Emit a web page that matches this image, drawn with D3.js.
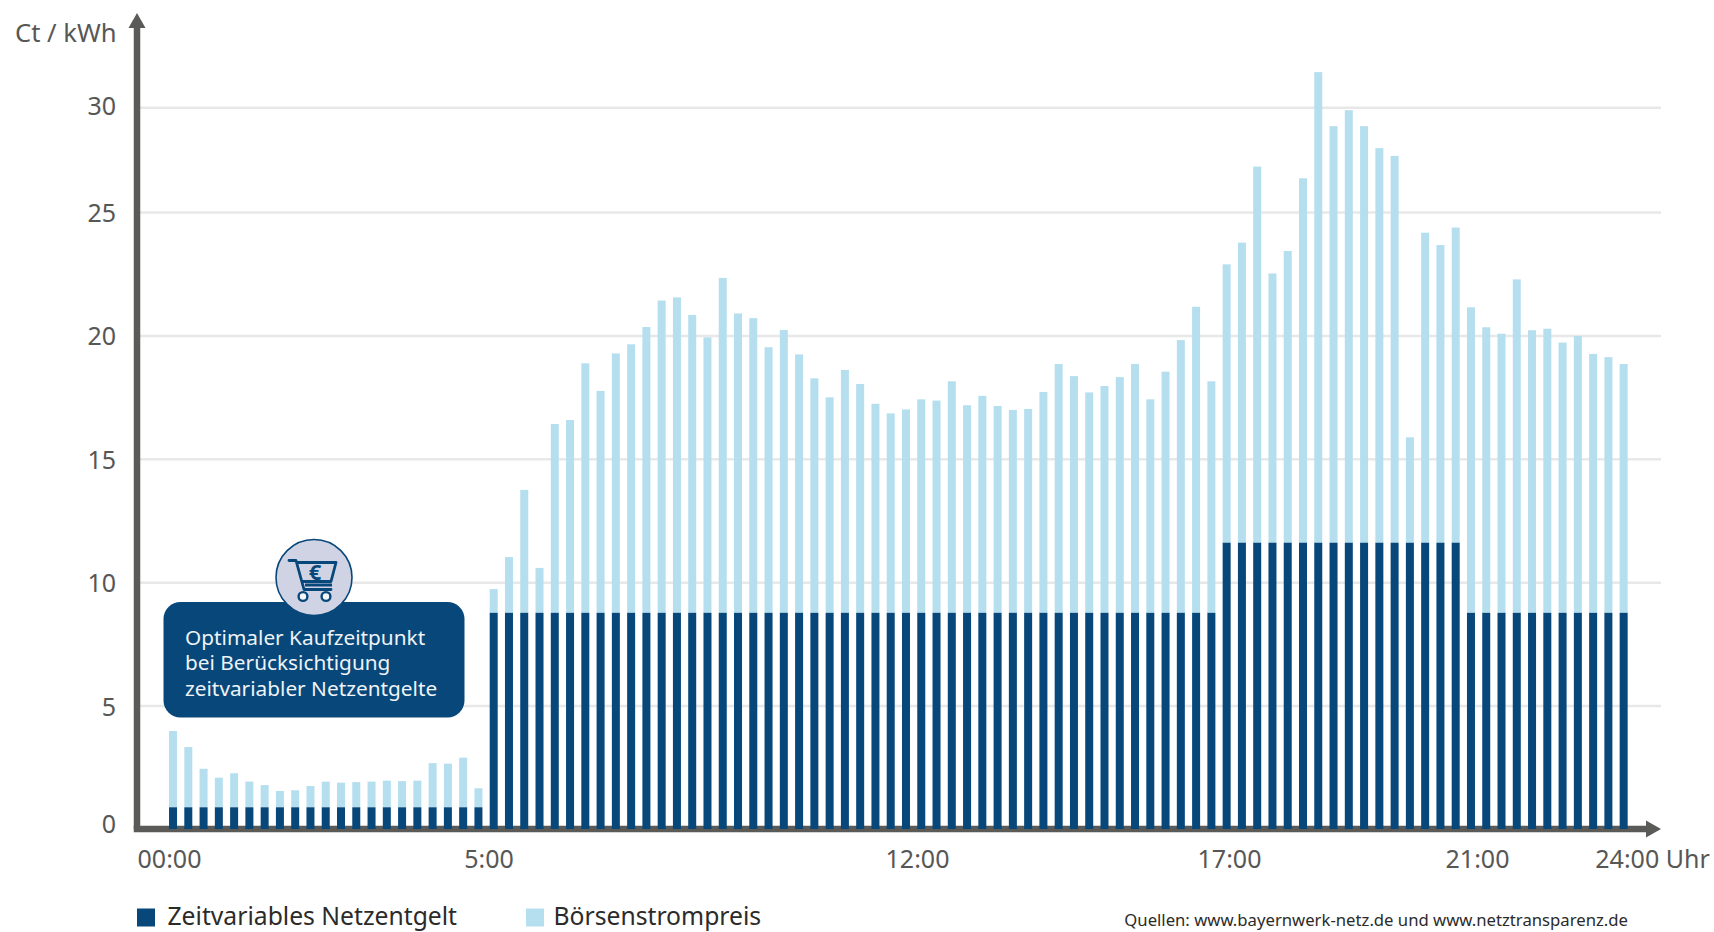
<!DOCTYPE html>
<html lang="de">
<head>
<meta charset="utf-8">
<title>Zeitvariable Netzentgelte</title>
<script src="https://cdn.jsdelivr.net/npm/d3@7"></script>
<style>
  body { margin: 0; background: #fff; }
  svg { display: block; font-family: "Noto Sans", sans-serif; }
  .achse text { fill: #575756; font-size: 25px; font-family: "Noto Sans", sans-serif; }
  .achse .domain { display: none; }
</style>
</head>
<body>
<script>
// Netzentgelt je Viertelstunde (Ct/kWh)
var netzentgelt = [
  0.88, 0.88, 0.88, 0.88, 0.88, 0.88, 0.88, 0.88, 0.88, 0.88, 0.88, 0.88,
  0.88, 0.88, 0.88, 0.88, 0.88, 0.88, 0.88, 0.88, 0.88,
  8.76, 8.76, 8.76, 8.76, 8.76, 8.76, 8.76, 8.76, 8.76, 8.76, 8.76, 8.76,
  8.76, 8.76, 8.76, 8.76, 8.76, 8.76, 8.76, 8.76, 8.76, 8.76, 8.76, 8.76,
  8.76, 8.76, 8.76, 8.76, 8.76, 8.76, 8.76, 8.76, 8.76, 8.76, 8.76, 8.76,
  8.76, 8.76, 8.76, 8.76, 8.76, 8.76, 8.76, 8.76, 8.76, 8.76, 8.76, 8.76,
  11.6, 11.6, 11.6, 11.6, 11.6, 11.6, 11.6, 11.6,
  11.6, 11.6, 11.6, 11.6, 11.6, 11.6, 11.6, 11.6,
  8.76, 8.76, 8.76, 8.76, 8.76, 8.76, 8.76, 8.76, 8.76, 8.76, 8.76
];

// Oberkante der Saeulen: Netzentgelt plus Boersenstrompreis (Ct/kWh)
var gesamtpreis = [
  3.97, 3.32, 2.44, 2.08, 2.26, 1.92, 1.78, 1.54, 1.57, 1.74, 1.92, 1.88,
  1.90, 1.92, 1.96, 1.94, 1.96, 2.67, 2.65, 2.89, 1.65,
  9.72, 11.02, 13.74, 10.58, 16.41, 16.57, 18.87, 17.75, 19.27, 19.64, 20.34,
  21.41, 21.54, 20.83, 19.92, 22.33, 20.89, 20.70, 19.52, 20.22, 19.23, 18.26,
  17.49, 18.60, 18.03, 17.23, 16.84, 17.00, 17.41, 17.36, 18.14, 17.17, 17.55,
  17.14, 16.98, 17.02, 17.71, 18.84, 18.35, 17.69, 17.95, 18.31, 18.84, 17.41,
  18.53, 19.81, 21.16, 18.14, 22.88, 23.76, 27.17, 22.51, 23.42, 26.61, 31.68,
  29.10, 29.86, 29.10, 28.05, 27.68, 15.87, 24.16, 23.66, 24.37, 21.14, 20.33,
  20.07, 22.27, 20.21, 20.27, 19.71, 19.98, 19.25, 19.12, 18.84
];

var yTicks = [0, 5, 10, 15, 20, 25, 30];
var stunden = [0, 5, 12, 17, 21, 24];
var stundenLabels = ["00:00", "5:00", "12:00", "17:00", "21:00", "24:00 Uhr"];
var legende = ["Zeitvariables Netzentgelt", "Börsenstrompreis"];
var hinweis = ["Optimaler Kaufzeitpunkt", "bei Berücksichtigung", "zeitvariabler Netzentgelte"];

var dunkel = "#08477a";
var hell = "#b5dfef";
var grau = "#5a5a59";

var svg = d3.select("body")
  .append("svg")
  .attr("width", 1714)
  .attr("height", 932);

// Die Skala ist oberhalb von 25 gestaucht
var y = d3.scaleLinear()
  .domain([0, 25, 30])
  .range([829, 212, 107.3]);

var x = d3.scaleBand()
  .domain(d3.range(gesamtpreis.length))
  .range([165.4, 1631.3])
  .paddingInner(0.476)
  .paddingOuter(0.238);

// Die Zeitbeschriftung sitzt nicht gleichmaessig auf der Achse
var xZeit = d3.scaleLinear()
  .domain(stunden)
  .range([169, 488.5, 917, 1229, 1477, 1652]);

// y-Achse mit Gitternetz
var yAchse = svg.append("g")
  .attr("class", "achse")
  .attr("transform", "translate(137,0)")
  .call(d3.axisLeft(y).tickValues(yTicks).tickSize(-1524).tickPadding(21));

yAchse.selectAll(".tick line")
  .attr("stroke", "#e8e8e8")
  .attr("stroke-width", 2.5)
  .attr("opacity", function (d) { return d === 0 ? 0 : 1; });

yAchse.selectAll(".tick text")
  .attr("dy", function (d) {
    if (d === 0) return "0.14em";
    return d === 30 ? "0.28em" : "0.38em";
  });

// Achsenlinien mit Pfeilspitzen
svg.append("path")
  .attr("d", "M137,829V26")
  .attr("stroke", grau)
  .attr("stroke-width", 6.5)
  .attr("fill", "none");
svg.append("path")
  .attr("d", "M137,829H1650")
  .attr("stroke", grau)
  .attr("stroke-width", 6.5)
  .attr("stroke-linecap", "square")
  .attr("fill", "none");
svg.append("path").attr("d", "M137,13L145.5,28H128.5Z").attr("fill", grau);
svg.append("path").attr("d", "M1661,829L1646,820.5V837.5Z").attr("fill", grau);

// Saeulen: hell bis zum Gesamtpreis, dunkel bis zum Netzentgelt
svg.selectAll("rect.preis")
  .data(gesamtpreis)
  .enter()
  .append("rect")
  .attr("class", "preis")
  .attr("x", function (d, i) { return x(i); })
  .attr("width", x.bandwidth())
  .attr("y", function (d) { return y(d); })
  .attr("height", function (d, i) { return y(netzentgelt[i]) - y(d); })
  .attr("fill", hell);

svg.selectAll("rect.netz")
  .data(netzentgelt)
  .enter()
  .append("rect")
  .attr("class", "netz")
  .attr("x", function (d, i) { return x(i); })
  .attr("width", x.bandwidth())
  .attr("y", function (d) { return y(d); })
  .attr("height", function (d) { return y(0) - y(d); })
  .attr("fill", dunkel);

// x-Achse, nur die Beschriftung
svg.append("g")
  .attr("class", "achse")
  .attr("transform", "translate(0,829)")
  .call(d3.axisBottom(xZeit)
    .tickValues(stunden)
    .tickSize(0)
    .tickPadding(21)
    .tickFormat(function (d, i) { return stundenLabels[i]; }));

svg.append("text")
  .attr("x", 116.5)
  .attr("y", 42)
  .attr("text-anchor", "end")
  .attr("fill", "#575756")
  .attr("font-size", 25.6)
  .text("Ct / kWh");

// Hinweisbox mit Einkaufswagen
svg.append("rect")
  .attr("x", 163.5)
  .attr("y", 602)
  .attr("width", 301)
  .attr("height", 115.5)
  .attr("rx", 17)
  .attr("fill", dunkel);

svg.selectAll("text.hinweis")
  .data(hinweis)
  .enter()
  .append("text")
  .attr("class", "hinweis")
  .attr("x", 185)
  .attr("y", function (d, i) { return 645 + i * 25.4; })
  .attr("fill", "#eef3f7")
  .attr("font-size", 20.8)
  .text(function (d) { return d; });

var wagen = svg.append("g").attr("transform", "translate(314,577.5)");

wagen.append("circle")
  .attr("r", 38)
  .attr("fill", "#d0d3e3")
  .attr("stroke", dunkel)
  .attr("stroke-width", 1.6);

wagen.append("path")
  .attr("d", "M-25,-17H-18L-10,12H17M-17,-15H22L17,4H-12")
  .attr("fill", "none")
  .attr("stroke", dunkel)
  .attr("stroke-width", 2.8)
  .attr("stroke-linejoin", "round")
  .attr("stroke-linecap", "round");

wagen.append("path")
  .attr("d", "M-9,7.5H18")
  .attr("stroke", dunkel)
  .attr("stroke-width", 3);

wagen.selectAll("circle.rad")
  .data([-11, 12])
  .enter()
  .append("circle")
  .attr("class", "rad")
  .attr("cx", function (d) { return d; })
  .attr("cy", 19)
  .attr("r", 4.4)
  .attr("fill", "#f4f5f9")
  .attr("stroke", dunkel)
  .attr("stroke-width", 2.4);

wagen.append("text")
  .attr("x", 1)
  .attr("y", 2)
  .attr("text-anchor", "middle")
  .attr("fill", dunkel)
  .attr("font-size", 22)
  .attr("font-weight", 700)
  .text("€");

// Legende
var legendeX = d3.scalePoint()
  .domain(legende)
  .range([137, 526]);

svg.selectAll("rect.legende")
  .data(legende)
  .enter()
  .append("rect")
  .attr("class", "legende")
  .attr("x", function (d) { return legendeX(d); })
  .attr("y", 908.5)
  .attr("width", 18)
  .attr("height", 18)
  .attr("fill", function (d, i) { return i === 0 ? dunkel : hell; });

svg.selectAll("text.legende")
  .data(legende)
  .enter()
  .append("text")
  .attr("class", "legende")
  .attr("x", function (d, i) { return legendeX(d) + (i === 0 ? 30.5 : 27.5); })
  .attr("y", 924.7)
  .attr("fill", "#2b2b2a")
  .attr("font-size", 24.7)
  .text(function (d) { return d; });

svg.append("text")
  .attr("x", 1628)
  .attr("y", 926)
  .attr("text-anchor", "end")
  .attr("fill", "#2b2b2a")
  .attr("font-size", 16.7)
  .text("Quellen: www.bayernwerk-netz.de und www.netztransparenz.de");
</script>
</body>
</html>
